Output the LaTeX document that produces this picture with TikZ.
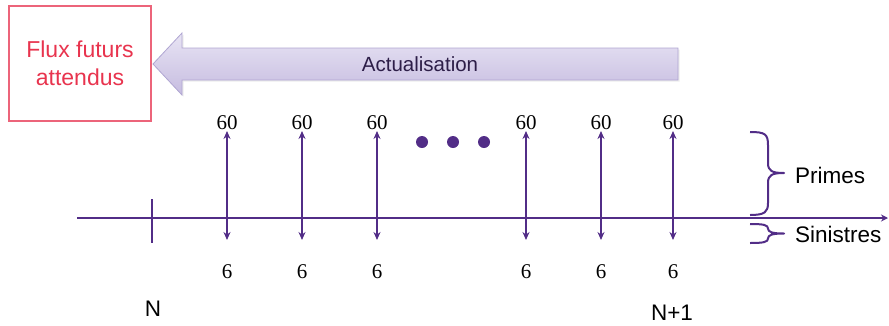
\documentclass[tikz,border=0pt]{standalone}
\usepackage{fontspec}
\setsansfont{Liberation Sans}
\newfontfamily\numfont{Liberation Serif}
\usetikzlibrary{arrows.meta,shadows}
\definecolor{axiscol}{RGB}{82,45,135}
\definecolor{boxpink}{RGB}{236,100,122}
\definecolor{fluxred}{RGB}{232,52,78}
\definecolor{arrtop}{RGB}{232,228,244}
\definecolor{arrbot}{RGB}{198,188,224}
\definecolor{arrborder}{RGB}{176,166,210}
\definecolor{actutext}{RGB}{45,30,72}
\tikzset{
  axisline/.style={draw=axiscol, line width=2.6pt},
  flow/.style={draw=axiscol, line width=2pt, -{Stealth[length=8pt,width=7pt]}},
  num/.style={font=\numfont\fontsize{21}{25}\selectfont, inner sep=0pt},
  lbl/.style={font=\sffamily\fontsize{22.5}{27}\selectfont, inner sep=0pt},
  dotmark/.style={circle, fill=axiscol, minimum size=12pt, inner sep=0pt},
  bracepath/.style={draw=axiscol, line width=2pt, line join=round},
}
\begin{document}
\begin{tikzpicture}[x=1pt,y=-1pt]
\useasboundingbox (0,0) rectangle (889,325);

% pink box
\node[draw=boxpink, line width=1.3pt, minimum width=142pt, minimum height=115pt,
      text=fluxred, font=\sffamily\fontsize{23}{28}\selectfont, align=center]
      (flux) at (80,63.5) {Flux futurs\\attendus};

% big actualisation arrow
\path[draw=arrborder, line width=0.8pt, top color=arrtop, bottom color=arrbot,
      drop shadow={opacity=0.15, shadow xshift=1.5pt, shadow yshift=-1.5pt}]
  (678,48) -- (182,48) -- (182,33) -- (153,64) -- (182,95) -- (182,80) -- (678,80) -- cycle;
\node[font=\sffamily\fontsize{20.5}{24}\selectfont, text=actutext, inner sep=0pt]
  (actu) at (420,64) {Actualisation};

% axis
\coordinate (a0) at (77,218);
\coordinate (a1) at (888,218);
\draw[axisline, -{Stealth[length=7pt,width=7pt]}] (a0) -- (a1);
\coordinate (t1) at (152,199);
\coordinate (t2) at (152,243);
\draw[axisline, line width=2.2pt] (t1) -- (t2);

% flows
\foreach \x [count=\i] in {227,302,377,526,601,673} {
  \coordinate (b\i) at (\x,218);
  \coordinate (u\i) at (\x,131);
  \coordinate (d\i) at (\x,240);
  \draw[flow] (b\i) -- (u\i);
  \draw[flow] (b\i) -- (d\i);
  \node[num] (p\i) at (\x,122.5) {60};
  \node[num] (s\i) at (\x,272) {6};
}

% dots
\node[dotmark] (dot1) at (422,142) {};
\node[dotmark] (dot2) at (453,142) {};
\node[dotmark] (dot3) at (484,142) {};

% braces
\path[bracepath] (750,132) .. controls (765,132) and (768,134) .. (768,145)
  -- (768,163) .. controls (768,171) and (772,173) .. (784,173)
  .. controls (772,173) and (768,175) .. (768,183)
  -- (768,203) .. controls (768,212) and (765,215) .. (750,215);
\path[bracepath] (750,224) .. controls (764,224) and (768,225) .. (768,228.5)
  .. controls (768,232) and (772,233.5) .. (784,233.5)
  .. controls (772,233.5) and (768,235) .. (768,238.5)
  .. controls (768,242) and (764,243) .. (750,243);

% labels
\node[lbl, anchor=base west] (primes) at (795,183) {Primes};
\node[lbl, anchor=base west] (sin) at (795,242) {Sinistres};
\node[lbl, anchor=base] (n0) at (153,316) {N};
\node[lbl, anchor=base] (n1) at (672,320) {N+1};
\end{tikzpicture}
\end{document}
